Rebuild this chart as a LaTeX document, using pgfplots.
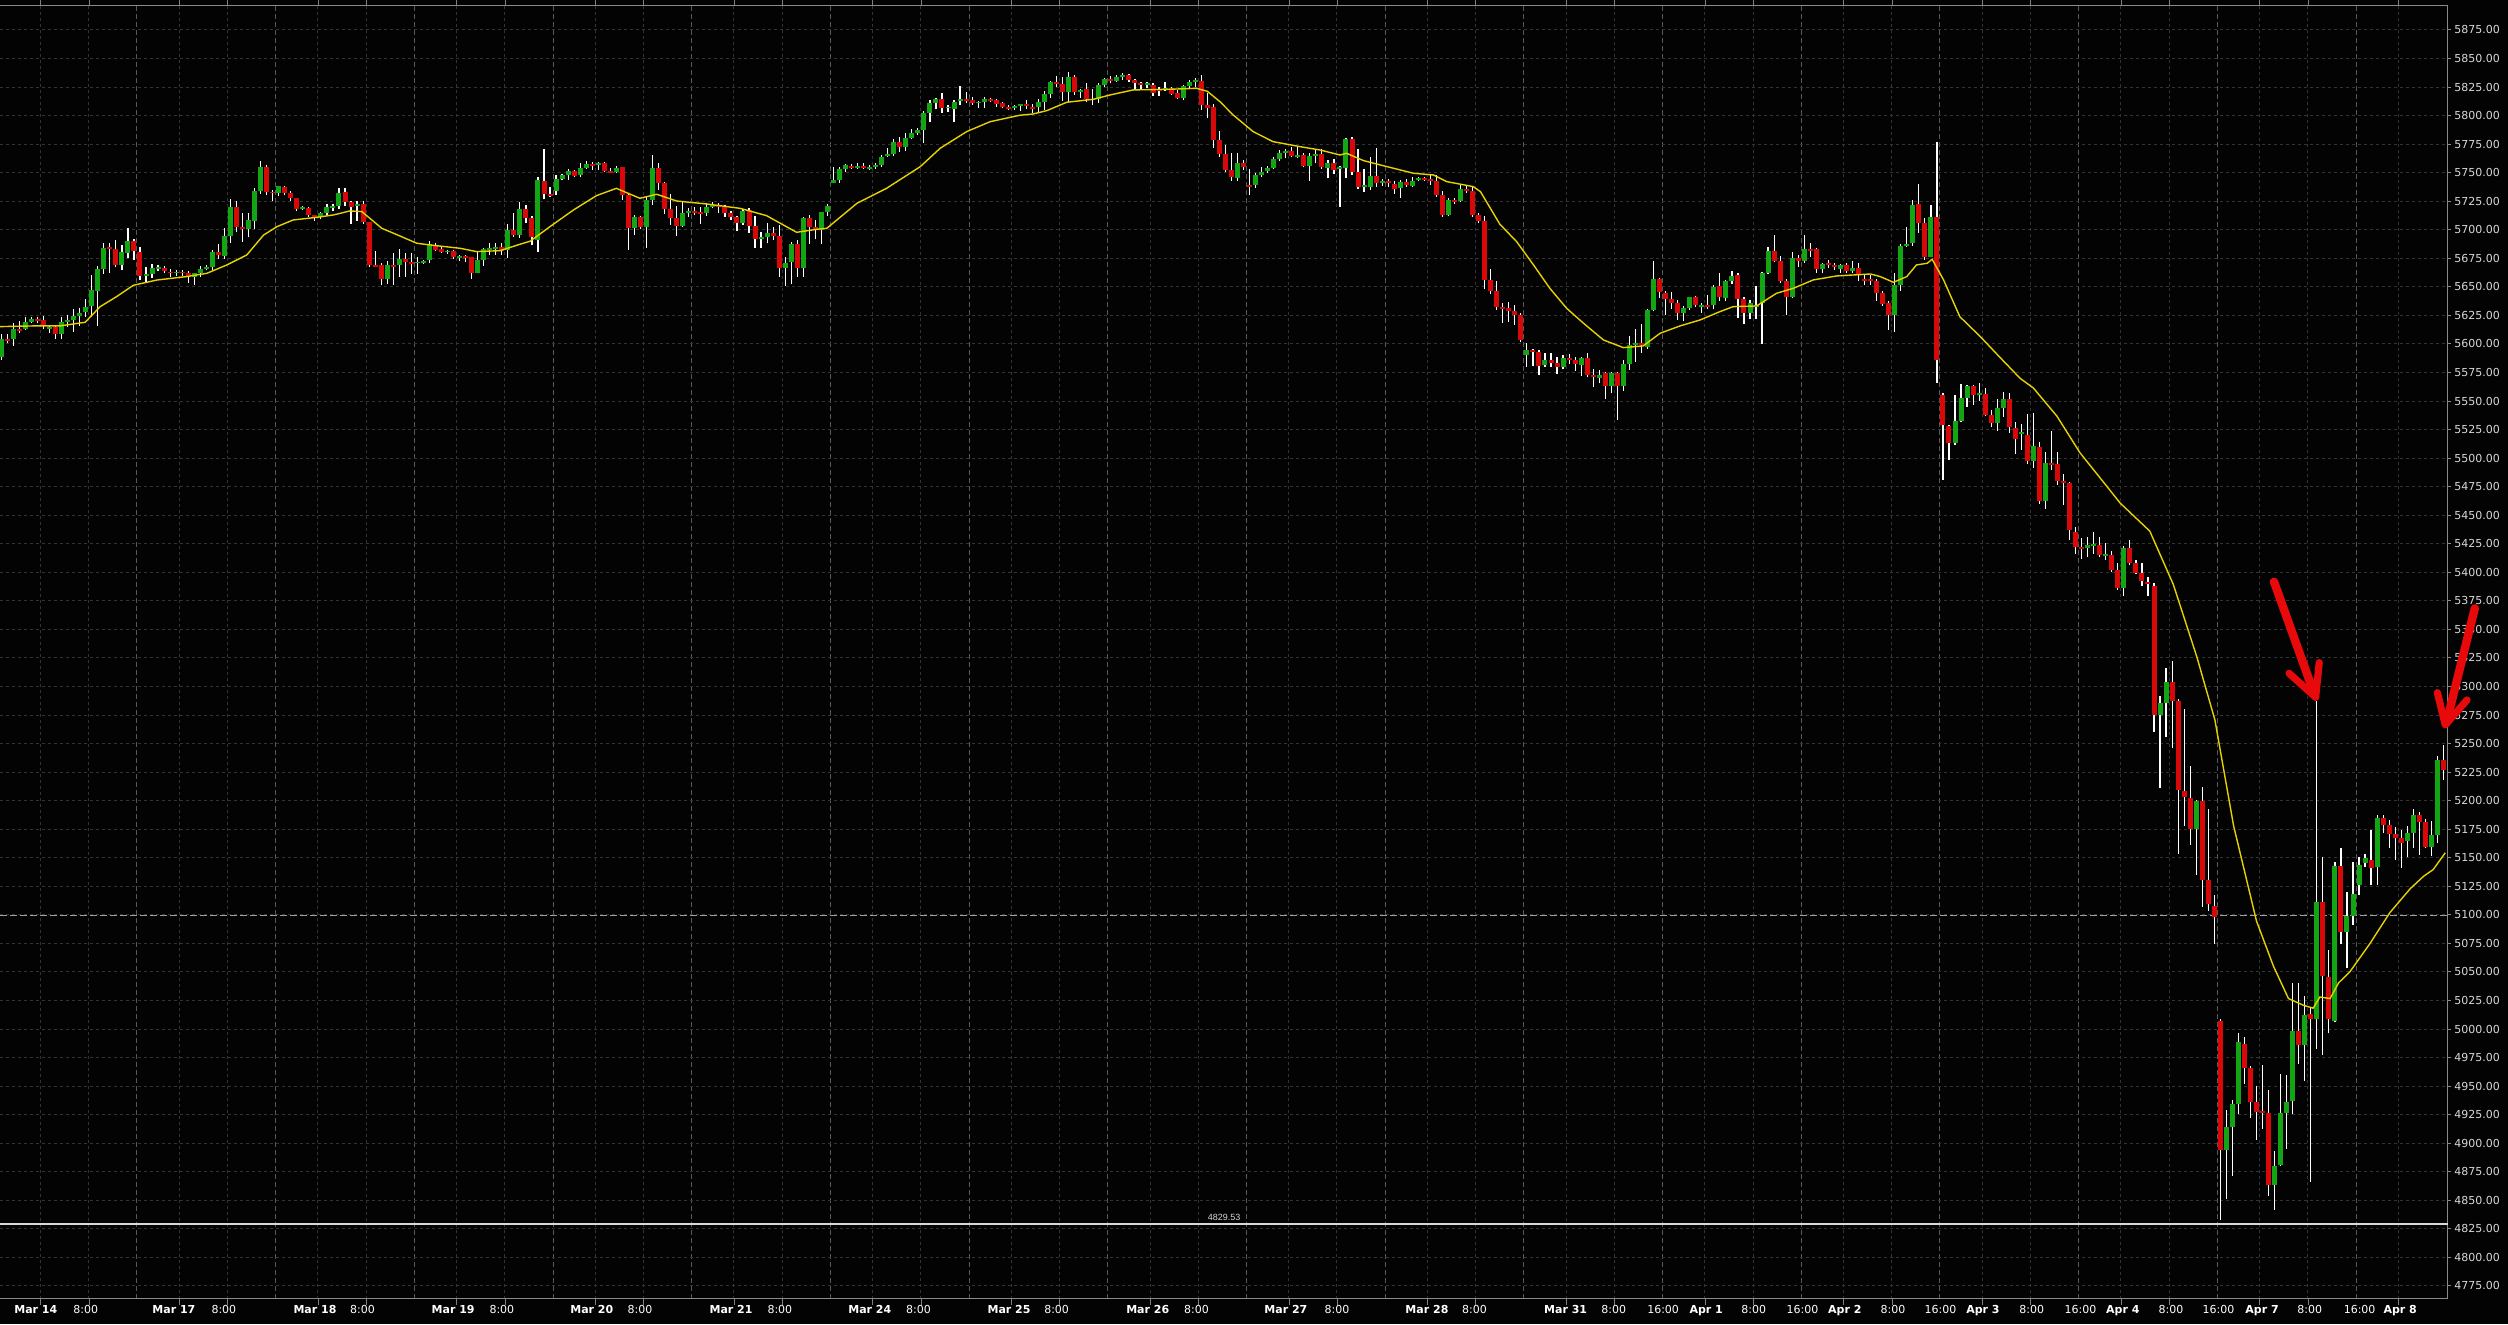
\documentclass[border=0pt]{standalone}
\usepackage{pgfplots}
\pgfplotsset{compat=1.18}
\usepackage{pgfplotstable}
\usepackage{fontspec}
\setmainfont{DejaVu Sans}
\newfontfamily\arialf{Liberation Sans}
\definecolor{bg}{HTML}{030303}
\definecolor{gridc}{HTML}{333333}
\definecolor{dayc}{HTML}{585858}
\definecolor{framec}{HTML}{8A8A8A}
\definecolor{cgreen}{HTML}{14A514}
\definecolor{cred}{HTML}{D80808}
\definecolor{maline}{HTML}{E6D200}
\definecolor{txt}{HTML}{D8D8D8}
\definecolor{arrowred}{HTML}{E80A0A}

\pgfplotstableread{
n o h l c
0 5589 5608.7 5586 5604.1
1 5604 5608.7 5600.6 5602.5
2 5604.4 5618.7 5598.5 5613.1
3 5613 5620.4 5609.3 5611.4
4 5613 5623.4 5612 5619.3
5 5619.5 5624 5618.7 5621.9
6 5621.9 5624 5618 5620.4
7 5621 5624.5 5612.8 5616
8 5613.4 5616.3 5609.3 5615.2
9 5615.2 5615.8 5604.7 5609
10 5609 5623.4 5604.1 5619.3
11 5619.3 5625 5615 5621
12 5621 5630.3 5610.5 5624.5
13 5624.5 5631.2 5615.8 5627.4
14 5628 5639.4 5624 5632.7
15 5633.3 5660.4 5624 5647.3
16 5646.4 5668 5616 5665.7
17 5665.7 5688.2 5661.3 5684.4
18 5684.9 5688.2 5662.5 5683.4
19 5683.2 5691.1 5667.1 5669.2
20 5669.2 5686.4 5664.8 5680.6
21 5680 5701.6 5675.3 5690.2
22 5690.2 5691.6 5673.5 5681.7
23 5680.6 5685.2 5656 5659.8
24 5659.8 5667.7 5654.6 5661.3
25 5661.3 5669.8 5658.1 5666.5
26 5665.4 5669.2 5663.6 5667.1
27 5666.5 5668.3 5661.9 5664.2
28 5663.3 5665.4 5659 5661.9
29 5661.9 5665 5659.5 5663.3
30 5663.3 5665 5659.5 5661.9
31 5661.9 5663.6 5653.7 5659
32 5659 5662.5 5651.4 5661.9
33 5661.9 5668.3 5659 5665.7
34 5666 5669.5 5664.5 5667.7
35 5667.7 5682.3 5664.8 5680.6
36 5680.6 5687.6 5674.7 5677.6
37 5677 5701.6 5674.7 5694.6
38 5694.6 5727 5688.7 5719.7
39 5719.7 5725.5 5698.1 5702.7
40 5702.4 5715 5689.6 5700.7
41 5700.7 5715 5693.4 5708.6
42 5708 5736.6 5700.4 5734
43 5734 5760 5731.4 5755
44 5755 5756.4 5730.2 5733.4
45 5733.4 5734.9 5725.5 5731.9
46 5732.5 5738.6 5729.6 5738.4
47 5737.5 5738.4 5730.2 5732.5
48 5732.5 5733.7 5725.5 5727.8
49 5727.8 5728 5716.2 5718.2
50 5718.5 5720.8 5717.3 5720
51 5719 5719.7 5711.5 5713.3
52 5713 5713.3 5708 5711.5
53 5711 5715.6 5709.2 5714.4
54 5714.4 5722.6 5712.7 5720
55 5719 5722.9 5716.5 5720.8
56 5720.8 5736.6 5717.9 5732.5
57 5733.4 5736.3 5720.8 5724.3
58 5724.3 5725.5 5705.1 5720
59 5720.8 5725.5 5708 5722.6
60 5722.6 5725.5 5705.1 5706.8
61 5706.8 5707 5667.1 5669.2
62 5669.2 5681.7 5667.1 5667.7
63 5669.2 5670.6 5651.4 5656.9
64 5656.9 5673 5652.5 5669.2
65 5669.2 5679.4 5651.9 5667.7
66 5669.2 5683.5 5659 5674.4
67 5674.4 5679.4 5659 5672.1
68 5671.8 5679.4 5661.3 5670
69 5670.6 5675.9 5661.3 5672.1
70 5671 5673.5 5670 5672.6
71 5673.5 5689.9 5671 5687.3
72 5686.4 5688.2 5681.1 5682.3
73 5683.2 5684.6 5680 5680.3
74 5680.3 5682.6 5679 5681.4
75 5681.1 5682.3 5674.7 5676.2
76 5675.3 5678 5672.5 5677
77 5677 5678 5671.8 5675.6
78 5676.2 5676.5 5657.2 5662.5
79 5662.5 5681.7 5661.9 5673.5
80 5673.5 5683.8 5668.3 5683.2
81 5682 5688.7 5678 5683.8
82 5683.5 5688.7 5678 5685.2
83 5685.2 5688.2 5677.6 5681.7
84 5682 5705.1 5675.6 5699.8
85 5699.8 5714.4 5693.4 5695.6
86 5695.4 5724 5693.1 5718.2
87 5718.2 5721.7 5706.2 5710.6
88 5710.6 5712.1 5686.4 5693.4
89 5691.1 5746.5 5680.6 5743.6
90 5742.7 5770.8 5726.7 5731.4
91 5731.7 5737.8 5729 5730
92 5734.3 5748 5730.2 5744.5
93 5744.8 5748.9 5743.6 5748
94 5748 5753.2 5743.6 5751.2
95 5751.2 5752.4 5746 5747.4
96 5748.3 5758.2 5746 5754.1
97 5754.1 5760.3 5753.5 5757.6
98 5757.6 5759 5752.5 5756.3
99 5756.5 5759.4 5752.5 5758.5
100 5758.5 5759.4 5750.6 5751.8
101 5751.5 5753.8 5749.5 5750
102 5750.9 5755.5 5749.5 5754.4
103 5755 5755.3 5726.1 5730.5
104 5730.5 5732 5682.3 5702
105 5702 5713.3 5695.2 5711.2
106 5711.2 5712.4 5700.4 5702.2
107 5702.2 5729 5684 5726.1
108 5726.1 5765.5 5722 5754.1
109 5754.1 5758.2 5734.9 5740.7
110 5740.7 5742 5713.9 5718.2
111 5718.2 5731.4 5704.2 5710.6
112 5710.6 5720.8 5694.6 5703.6
113 5703.6 5725 5702.2 5714.7
114 5714.7 5718.8 5711.5 5716.5
115 5716.5 5720.3 5713 5714.4
116 5715.6 5720.3 5705.1 5714.1
117 5714.7 5723.2 5712.4 5720.3
118 5720.3 5724.4 5718.8 5722
119 5722 5723.8 5714.4 5720.3
120 5720.3 5721.7 5711.5 5715
121 5715 5716.2 5708.6 5711.2
122 5711.2 5712.1 5699 5706.2
123 5706.2 5718 5704.2 5716.5
124 5717.3 5718.8 5697 5703.6
125 5703.6 5712.1 5684 5692
126 5692 5698.1 5684 5693.7
127 5693.7 5706.2 5688.2 5697.2
128 5697.2 5702.2 5691.1 5694.9
129 5694.9 5704.2 5659 5666.9
130 5666.9 5676.5 5650.8 5670.9
131 5672 5689.6 5652.5 5687.6
132 5687.6 5691.1 5659 5666.9
133 5666.9 5710.8 5659 5710.3
134 5710.3 5713.3 5687.6 5702.2
135 5702.2 5708.6 5691.7 5699.8
136 5699.8 5715.9 5687.6 5715.6
137 5715.6 5722.6 5712.1 5720.8
138 5741.3 5755.3 5740.7 5743.6
139 5743.6 5755.3 5741.3 5753.2
140 5753.2 5757.6 5751 5756.5
141 5755.9 5757.6 5753.5 5754.1
142 5754.1 5758.2 5753.5 5755.9
143 5755.9 5758.8 5753.5 5754.1
144 5753.5 5756.8 5752.3 5755.3
145 5755 5758.2 5753.5 5756.8
146 5756.8 5765.2 5755.3 5764.1
147 5764.6 5771.3 5764 5766.4
148 5766.4 5779.5 5764.6 5777.2
149 5776.9 5781.6 5768.1 5772.8
150 5772.8 5784.5 5768.7 5780.7
151 5780.7 5788 5779.2 5784.5
152 5784.8 5788.9 5782.7 5787.7
153 5787.7 5804.3 5776.3 5802.6
154 5802.6 5813.7 5794.7 5811.4
155 5811.4 5815.2 5805.5 5814.3
156 5814.3 5820.1 5802.6 5806.7
157 5806.7 5809.3 5803.5 5807.9
158 5805.8 5813.7 5794.7 5812
159 5812.8 5826 5809 5814.9
160 5814.6 5820.7 5810.8 5813.1
161 5813.7 5816.6 5809.3 5811.4
162 5810.7 5813 5806.7 5812.2
163 5812 5816 5806.7 5814.6
164 5814.6 5815.8 5812 5813.1
165 5813.7 5814.9 5807.9 5810.5
166 5810.8 5812.2 5806.4 5807.9
167 5807.9 5809.5 5804.5 5806.1
168 5806.7 5809.6 5805 5808.5
169 5808.5 5810.5 5804.3 5810.2
170 5810.2 5813.7 5806.1 5808.2
171 5807.3 5810.2 5802 5805.8
172 5807.3 5814.3 5803.2 5812
173 5812 5821.3 5805 5819.2
174 5819.2 5830.6 5815.2 5829.5
175 5829.5 5834.7 5825.4 5827.7
176 5827.7 5834.1 5813.1 5820.7
177 5820.7 5838.2 5812.2 5833.5
178 5833.5 5835.6 5818.1 5820.7
179 5820.7 5823 5815.2 5822.5
180 5823 5828.3 5812.2 5814.3
181 5814.9 5823 5809 5813.7
182 5814.9 5828.9 5811.4 5826.5
183 5826.5 5833 5825.4 5831.8
184 5831.8 5834.7 5828.3 5830
185 5830.6 5835.9 5829.5 5834.1
186 5834.1 5837 5831 5835.3
187 5835.3 5836.5 5829.5 5831.2
188 5831.2 5832.4 5823.6 5828.9
189 5828.6 5829.5 5823 5826.5
190 5826.5 5829.5 5824.2 5828.3
191 5827.1 5828.9 5817.2 5820.1
192 5823 5824.8 5817.2 5821.3
193 5822 5829.5 5821.8 5823.9
194 5824.2 5825.4 5818.1 5819.2
195 5820.1 5822.5 5814.3 5815.4
196 5815.4 5826.8 5813.7 5826
197 5826 5831.2 5823 5829.5
198 5829.2 5833 5825.4 5830.9
199 5830.3 5835.6 5805 5809.3
200 5809.3 5819.5 5797.6 5806.7
201 5807.3 5810.2 5771.7 5778.7
202 5778.7 5786.3 5764.1 5766.4
203 5766.4 5774 5750.6 5752.4
204 5752.4 5767 5743 5746
205 5745.7 5767.6 5743 5758.2
206 5758.2 5761.1 5752.4 5755.3
207 5739.3 5753.5 5730.8 5737.5
208 5739.3 5749.5 5736.4 5747.7
209 5747.7 5755.3 5746.5 5750.4
210 5751.2 5755.9 5749.5 5754.1
211 5754.1 5763.5 5753 5761.7
212 5761.7 5769.9 5760.6 5767
213 5767.3 5771 5762.5 5769
214 5769 5772.2 5763.5 5764.6
215 5764.1 5772.2 5762.6 5765.8
216 5765.2 5767 5754.7 5755.9
217 5755.9 5767 5743 5764.6
218 5764.6 5770.5 5758.2 5766.4
219 5766.4 5770.5 5753.5 5754.7
220 5754.4 5761.1 5745.1 5758.2
221 5758.2 5761.7 5748.9 5752.4
222 5752.9 5756 5720.3 5755.3
223 5754.1 5780.1 5745.1 5779.2
224 5779.2 5781 5748 5750.9
225 5750.9 5771 5736.1 5737.8
226 5737.8 5753.5 5733.4 5739.6
227 5737.8 5763.5 5734.9 5747.1
228 5747.1 5771.3 5737.8 5741.3
229 5741.3 5744.5 5738.4 5742.7
230 5742.7 5744.2 5737.8 5741.3
231 5740.1 5743 5731.4 5736
232 5736.6 5743.6 5727.9 5741.9
233 5741.9 5744.2 5737.8 5739.6
234 5738.4 5746.5 5737.2 5743
235 5743.6 5746.5 5742.5 5745.7
236 5745.4 5746.5 5743 5743.6
237 5744.8 5748 5739.6 5743
238 5742.7 5748 5729 5730.5
239 5730.5 5733.7 5711.5 5713
240 5713 5727.9 5712.4 5726.1
241 5726.1 5727.9 5723 5724.4
242 5725.5 5739.6 5724.4 5736
243 5736 5738.4 5731.9 5733.7
244 5734.3 5737.8 5711.5 5713
245 5713 5714.4 5705.7 5708
246 5708 5712.1 5647.9 5656.1
247 5656.1 5665.4 5643.8 5646.7
248 5646.7 5655.5 5629.8 5632.7
249 5632.7 5636 5618.7 5631
250 5631.8 5636.8 5619.6 5629.2
251 5628.9 5634.2 5617 5625.5
252 5625.4 5626.9 5601.8 5603.5
253 5590.4 5600.6 5580.2 5594.8
254 5594.8 5595.4 5580.8 5593
255 5593 5594.8 5573.2 5580.8
256 5581.3 5592.4 5580.2 5586
257 5586 5592.4 5579.5 5583.7
258 5583.4 5588.9 5573.7 5580.2
259 5580.2 5590.1 5577.8 5587.8
260 5587.8 5591.3 5582.5 5586
261 5586 5588.9 5576.7 5582.5
262 5581.3 5588.9 5572 5588.1
263 5588.1 5591.8 5571.4 5572.9
264 5573.2 5577.8 5562.7 5570.8
265 5570.5 5577 5565.6 5572.9
266 5574.3 5575.5 5552.1 5563.2
267 5563.2 5575.8 5556.8 5574.3
268 5574.3 5575.8 5533.5 5563.2
269 5563.2 5586 5559.2 5582.5
270 5582.5 5607 5577.2 5598.8
271 5598.8 5612.9 5584.5 5600.5
272 5600.5 5617.5 5591.8 5598.8
273 5597.7 5631 5595.4 5629.8
274 5629.8 5672.7 5628.6 5657
275 5657 5657.8 5640 5645.5
276 5645 5646.1 5625.7 5639.7
277 5639.1 5645.5 5630.9 5636.2
278 5635.9 5638.5 5621 5626.9
279 5626.9 5633.3 5619.9 5631.5
280 5631.5 5641.5 5629.8 5640.9
281 5640.9 5642 5632.1 5633.9
282 5632.1 5635.5 5627 5633.9
283 5633.9 5643.2 5630.9 5632.1
284 5633.9 5652 5630.4 5649.6
285 5650.8 5662.5 5638 5640.9
286 5640.3 5656.1 5637.4 5654.9
287 5654.9 5663.6 5652.6 5659.6
288 5660.1 5662.5 5622.8 5639.1
289 5639.1 5641.5 5617.5 5627.5
290 5627.5 5638.5 5622.2 5635.6
291 5632.1 5650.8 5621.6 5633.9
292 5635.6 5663 5600 5662
293 5662 5684.7 5661.3 5681.2
294 5681.2 5695.2 5671.8 5672.4
295 5672.4 5677.1 5653.7 5655.5
296 5654.9 5657.2 5625.7 5641.5
297 5641.5 5680.6 5640 5675.3
298 5675.3 5677.7 5667.7 5673
299 5672.4 5695.2 5671.2 5682.9
300 5682.9 5688.2 5676.5 5681.2
301 5682.9 5684.1 5662.5 5666
302 5666 5671.2 5661.9 5670
303 5671.2 5673.5 5666.6 5668.9
304 5668.9 5670.6 5664.8 5667.1
305 5666 5670 5662.5 5668.9
306 5669.5 5670.6 5662 5663.6
307 5664.2 5672.4 5661.9 5666.6
308 5666.6 5671.2 5655.5 5661.3
309 5657.2 5661.3 5651.4 5655.5
310 5656.6 5660 5652 5654.9
311 5655.5 5656.6 5638 5644.4
312 5644.4 5646.1 5633.3 5635
313 5635.6 5637.4 5612.3 5625.1
314 5625.1 5661.9 5610.5 5651.4
315 5651.4 5687.6 5646.7 5685.8
316 5685.8 5702.8 5685.2 5687.6
317 5688.2 5726.1 5685.8 5721.5
318 5722.6 5740.1 5697 5706.2
319 5706.2 5710.3 5673.6 5676.5
320 5676.5 5721.5 5675.9 5711.5
321 5711.5 5776.9 5566.1 5586
322 5555.3 5556.8 5480.9 5529.4
323 5528.2 5529.4 5498.4 5513
324 5513.6 5555.6 5511.9 5532.9
325 5532.9 5565 5532 5552.7
326 5552.7 5564.4 5545.1 5563.2
327 5563.2 5564.4 5546.6 5555.3
328 5555 5565.6 5550.4 5556.8
329 5556.2 5561.2 5537 5537.8
330 5537.8 5542.2 5527.6 5530.5
331 5530.5 5551.5 5524.1 5543.7
332 5543.7 5558 5536.4 5551.5
333 5551.5 5557.4 5522.1 5527
334 5526.4 5532 5503.5 5517.2
335 5521.1 5529.5 5507.4 5523.3
336 5520.1 5538.8 5494.6 5497.5
337 5497.5 5539.8 5491.6 5510.3
338 5509.8 5514.2 5460.2 5462.1
339 5462.1 5505.4 5455.3 5495.6
340 5495.6 5524 5490 5493.6
341 5494.6 5505.4 5476.9 5479.8
342 5479.8 5485.7 5459.2 5477.9
343 5477.9 5478.8 5428.7 5437.5
344 5435.6 5439.5 5415.9 5421.8
345 5421.8 5429.7 5411.5 5420.3
346 5421.3 5430.7 5413 5423.8
347 5422.8 5435.6 5416.4 5424.8
348 5423.8 5431.2 5413 5414.9
349 5414.4 5425.8 5411 5416.4
350 5414.9 5418.9 5400.2 5401.7
351 5401.7 5408 5384.5 5386.4
352 5386.4 5422.8 5379.5 5421.3
353 5421.3 5428.7 5406.1 5408
354 5408 5411 5398.2 5399.2
355 5399.2 5408 5388.4 5392.3
356 5391.4 5396.3 5379.5 5389.4
357 5388.4 5390.4 5260.6 5275.3
358 5275.3 5292 5211.5 5285.2
359 5285.2 5316.6 5255.7 5303.8
360 5303.8 5322.5 5245.9 5287.2
361 5287.2 5289.1 5153.5 5209.5
362 5208.5 5280.3 5178 5203.6
363 5202.6 5230.1 5161.3 5175.1
364 5175.1 5200.6 5134.8 5199.7
365 5199.7 5212.4 5107.3 5130.9
366 5130.9 5192.8 5103.3 5109.2
367 5108.2 5117.1 5074.8 5098.4
368 5006.9 5008.5 4833 4894.4
369 4894 4929.3 4851.6 4914.6
370 4914.6 4938.2 4871.3 4934.2
371 4934.2 4996.2 4925.4 4988.3
372 4987.3 4993.2 4951.9 4965.7
373 4965.7 4967.7 4922.4 4936.2
374 4936.2 4950 4902.8 4927.4
375 4928.4 4968.6 4912.6 4926.4
376 4926.4 4947 4853.6 4863.5
377 4863.5 4893 4841.8 4880.2
378 4880.7 4960.8 4880.2 4926.4
379 4926.4 4959.8 4894.9 4936.2
380 4937.2 5040.4 4925.4 4998.2
381 4998.2 5040.4 4969.6 4986.3
382 4986.3 5028.6 4954.9 5011.9
383 5012.8 5018.8 4866.4 5008.9
384 5008.9 5287.1 4982.4 5111.2
385 5111.2 5150.5 4977.5 5046.3
386 5045.3 5068.9 4996.2 5008.9
387 5007 5146.6 5006 5142.6
388 5142.6 5158.4 5074.8 5084.6
389 5084.6 5120 5053.2 5099.4
390 5099.4 5146.6 5091.5 5118.1
391 5125.9 5150.5 5117.1 5143.6
392 5145.6 5153.5 5141.6 5149.5
393 5148.5 5174.1 5125.9 5140.7
394 5141.6 5187.9 5125.9 5184.9
395 5184.9 5187.9 5172.1 5179
396 5179 5182.9 5158.4 5171.2
397 5171.2 5177.1 5148.5 5167.2
398 5167.2 5174.1 5140.7 5163.3
399 5164.3 5178 5150.5 5172.1
400 5172.1 5192.8 5158.4 5187.9
401 5187.9 5189.8 5152.5 5181
402 5181 5183.9 5158.4 5159.4
403 5159.4 5182 5151.5 5170.2
404 5170.2 5239 5163.3 5236
405 5236 5248.8 5218.3 5227.2
}\candles

\pgfplotstableread{
n ma
-0.2 5615.2
5.3 5615.8
9.7 5615.8
13.9 5619
16.4 5632.7
19.1 5641.4
21.9 5651.4
25.8 5656
30.7 5659
34.1 5661.9
37.4 5669.2
40.7 5677.9
43.5 5695.4
45.7 5702.7
48.4 5708.6
52.3 5710.9
55.1 5713
57.8 5716.5
59.8 5715.9
63.1 5701.3
66.1 5694.6
68.9 5688.2
71.6 5686.4
76.1 5683.8
78.8 5680.9
82.7 5681.7
86 5687.3
87.7 5690
91 5702.8
94.9 5717.4
98.7 5729.9
102 5736.3
105.9 5727.6
108.7 5731.1
112 5725.2
117 5722.6
122.5 5718.8
126.9 5712.4
129.7 5704.2
131.9 5697.8
135.2 5700.4
136.9 5701.3
141.9 5723.2
146.8 5736.3
152.4 5755.3
155.7 5771.4
160.1 5786
164 5794.7
168.9 5800.3
171.1 5801.4
173.4 5804.4
176.7 5811.7
181.1 5814.3
183.9 5818.1
187.7 5822.5
193.3 5823
198.2 5823.9
200 5821.3
202.1 5812.2
204.3 5800.5
207.6 5786
210.9 5777.2
215.4 5772.8
218.7 5769.9
222 5765.5
223.1 5767
225.9 5760.6
229.8 5755.3
234.2 5749.5
237.5 5748
239.7 5742.2
244.1 5737.8
245.3 5733.4
248.5 5705
251.3 5689.6
254.1 5669.2
256.8 5648.8
259.6 5631.2
262.4 5618.1
265.7 5603.5
269 5596.8
272.3 5598.3
275.1 5609.4
278.4 5615.8
281.7 5621
285 5628.3
287.2 5632.7
291.1 5633.3
294.4 5644.4
297.2 5648.8
300.5 5656.1
304.4 5659.6
310 5661.3
311.6 5659
313.8 5654
316 5659
317.6 5669.2
319.4 5670.7
320.2 5674.2
322.1 5656.1
324.8 5623.9
328.2 5606.4
331.5 5588
334.8 5569.9
337 5561.4
340.9 5536.8
344.7 5504.9
351.4 5460.6
356.3 5436.1
360.2 5389.4
364.1 5326
367.1 5270.7
370.2 5178
374 5094.5
376.8 5055.2
379.3 5026.7
381.8 5020.8
383.4 5018.3
384.5 5028.1
386.2 5026.7
387.6 5040.4
389.5 5050.3
392.8 5074.8
396.1 5101.9
399.5 5123
401.7 5133.8
403.3 5139.7
405.3 5154.4
}\mavg

\begin{document}
\begin{tikzpicture}
\fill[bg] (0pt,0pt) rectangle (1254pt,662pt);
\useasboundingbox (0pt,0pt) rectangle (1254pt,662pt);
\begin{axis}[
  at={(0pt,12.5pt)}, anchor=south west,
  scale only axis, width=1224pt, height=646.5pt,
  xmin=-0.216, xmax=405.75, ymin=4763.6, ymax=5896,
  axis line style={draw=framec, line width=0.5pt},
  clip mode=individual,
  ytick={4775,4800,...,5875},
  ytick pos=right, yticklabel pos=right,
  tick align=outside,
  major tick length=1.6pt,
  y tick style={draw=framec, line width=0.5pt},
  xtick={22.5,45.5,...,390.5},
  minor xtick={6.5,14.5,29.5,37.5,52.5,60.5,75.5,83.5,98.5,106.5,121.5,129.5,144.5,152.5,167.5,175.5,190.5,198.5,213.5,221.5,236.5,244.5,259.5,267.5,282.5,290.5,305.5,313.5,328.5,336.5,351.5,359.5,374.5,382.5,397.5},
  xticklabels={},
  xmajorticks=false, xminorticks=false,
  xmajorgrids=true, xminorgrids=true, ymajorgrids=true,
  major x grid style={draw=dayc, line width=0.5pt, dash pattern=on 2.5pt off 1.5pt},
  minor x grid style={draw=gridc, line width=0.5pt, dash pattern=on 1.5pt off 1.5pt},
  major y grid style={draw=gridc, line width=0.5pt, dash pattern=on 1.5pt off 1.5pt},
  yticklabel style={/pgf/number format/fixed, /pgf/number format/fixed zerofill,
    /pgf/number format/precision=2, /pgf/number format/1000 sep={},
    /pgf/number format/assume math mode=true,
    font=\fontsize{5.5}{6}\selectfont, text=txt, inner sep=0pt, anchor=west, xshift=1.4pt},
]
% crosshair line
\draw[draw=framec!80, line width=0.5pt, dash pattern=on 3.5pt off 1.5pt] (axis cs:-0.216,5099.5) -- (axis cs:405.75,5099.5);
% wicks
\addplot[white, line width=0.6pt, mark=none, forget plot,
  quiver={u=0, v=\thisrow{h}-\thisrow{l}}]
  table[x=n, y=l] {\candles};
% green bodies
\addplot[cgreen, line width=2.5pt, mark=none, forget plot,
  restrict expr to domain={\thisrow{c}-\thisrow{o}}{0:100000},
  quiver={u=0, v=\thisrow{c}-\thisrow{o}}]
  table[x=n, y=o] {\candles};
% red bodies
\addplot[cred, line width=2.5pt, mark=none, forget plot,
  restrict expr to domain={\thisrow{o}-\thisrow{c}}{0.0001:100000},
  quiver={u=0, v=\thisrow{o}-\thisrow{c}}]
  table[x=n, y=c] {\candles};
% moving average
\addplot[maline, line width=0.7pt, mark=none] table[x=n, y=ma] {\mavg};
% low line
\draw[draw=txt, line width=0.8pt] (axis cs:-0.216,4829.53) -- (axis cs:405.75,4829.53);
\node[anchor=base, inner sep=0pt, yshift=1.4pt, text=txt, font=\arialf\fontsize{4.5}{5}\selectfont] at (axis cs:202.8,4829.53) {4829.53};
% date labels
\begin{scope}[every node/.style={anchor=base west, inner sep=0pt, text=white, font=\fontsize{5.5}{6}\selectfont}]
\node at (axis cs:2.1,4750.5) {\textbf{Mar 14}};
\node at (axis cs:11.9,4750.5) {8:00};
\node at (axis cs:25.0,4750.5) {\textbf{Mar 17}};
\node at (axis cs:34.8,4750.5) {8:00};
\node at (axis cs:48.4,4750.5) {\textbf{Mar 18}};
\node at (axis cs:57.8,4750.5) {8:00};
\node at (axis cs:71.3,4750.5) {\textbf{Mar 19}};
\node at (axis cs:80.9,4750.5) {8:00};
\node at (axis cs:94.3,4750.5) {\textbf{Mar 20}};
\node at (axis cs:103.8,4750.5) {8:00};
\node at (axis cs:117.4,4750.5) {\textbf{Mar 21}};
\node at (axis cs:127.0,4750.5) {8:00};
\node at (axis cs:140.4,4750.5) {\textbf{Mar 24}};
\node at (axis cs:150.0,4750.5) {8:00};
\node at (axis cs:163.5,4750.5) {\textbf{Mar 25}};
\node at (axis cs:172.9,4750.5) {8:00};
\node at (axis cs:186.5,4750.5) {\textbf{Mar 26}};
\node at (axis cs:196.1,4750.5) {8:00};
\node at (axis cs:209.4,4750.5) {\textbf{Mar 27}};
\node at (axis cs:219.4,4750.5) {8:00};
\node at (axis cs:232.8,4750.5) {\textbf{Mar 28}};
\node at (axis cs:242.2,4750.5) {8:00};
\node at (axis cs:255.8,4750.5) {\textbf{Mar 31}};
\node at (axis cs:265.3,4750.5) {8:00};
\node at (axis cs:272.9,4750.5) {16:00};
\node at (axis cs:279.9,4750.5) {\textbf{Apr 1}};
\node at (axis cs:288.5,4750.5) {8:00};
\node at (axis cs:296.0,4750.5) {16:00};
\node at (axis cs:302.9,4750.5) {\textbf{Apr 2}};
\node at (axis cs:311.6,4750.5) {8:00};
\node at (axis cs:318.9,4750.5) {16:00};
\node at (axis cs:325.8,4750.5) {\textbf{Apr 3}};
\node at (axis cs:334.6,4750.5) {8:00};
\node at (axis cs:342.1,4750.5) {16:00};
\node at (axis cs:349.0,4750.5) {\textbf{Apr 4}};
\node at (axis cs:357.7,4750.5) {8:00};
\node at (axis cs:365.0,4750.5) {16:00};
\node at (axis cs:372.1,4750.5) {\textbf{Apr 7}};
\node at (axis cs:380.7,4750.5) {8:00};
\node at (axis cs:388.4,4750.5) {16:00};
\node at (axis cs:395.0,4750.5) {\textbf{Apr 8}};
\end{scope}
% red annotation arrows
\draw[arrowred, line width=4.2pt, line cap=round] (axis cs:376.9,5391.8) -- (axis cs:383.6,5293);
\draw[arrowred, line width=3.6pt, line cap=round, line join=round] (axis cs:379.4,5311.6) -- (axis cs:383.8,5290.6) -- (axis cs:384.4,5320.9);
\draw[arrowred, line width=4.2pt, line cap=round] (axis cs:410.2,5368.5) -- (axis cs:405.5,5268.5);
\draw[arrowred, line width=3.6pt, line cap=round, line join=round] (axis cs:404.0,5294.6) -- (axis cs:405.3,5266.3) -- (axis cs:408.9,5288.2);
\end{axis}
\end{tikzpicture}
\end{document}
